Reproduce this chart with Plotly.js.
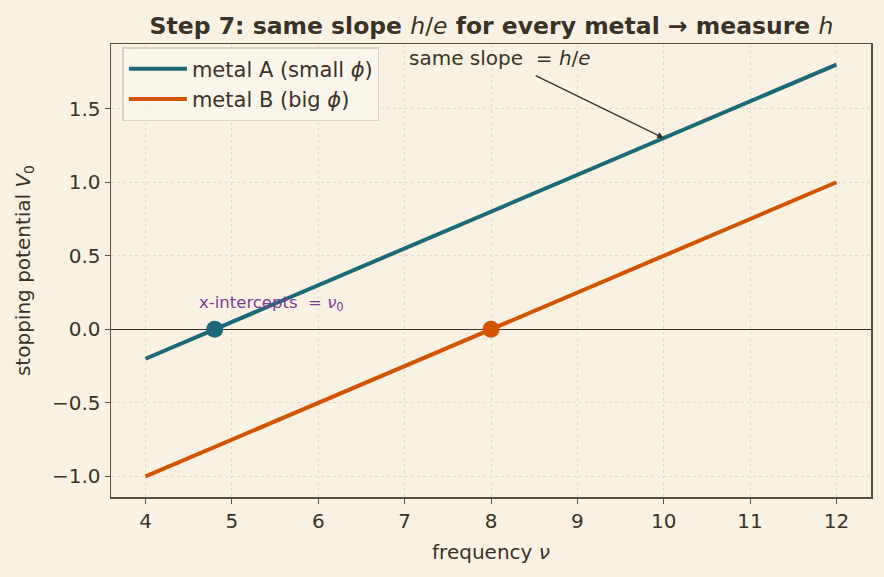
<!DOCTYPE html>
<html>
<head>
<meta charset="utf-8">
<script src="https://cdn.plot.ly/plotly-3.0.1.min.js"></script>
<style>html,body{margin:0;padding:0;background:#f9f2e3;}#chart{width:884px;height:577px;}</style>
</head>
<body>
<div id="chart"></div>
<script>
const frequency = [4, 12];
const metalA = [-0.2, 1.8];
const metalB = [-1.0, 1.0];
const interceptX = [4.8, 8.0];
const interceptY = [0, 0];
const xTicks = [4, 5, 6, 7, 8, 9, 10, 11, 12];
const yTicks = [-1.0, -0.5, 0.0, 0.5, 1.0, 1.5];
const yTickText = ['\u22121.0', '\u22120.5', '0.0', '0.5', '1.0', '1.5'];

const teal = '#1b6878';
const orange = '#d35400';
const ink = '#3a3226';
const font = 'DejaVu Sans, sans-serif';

const traces = [
  {x: frequency, y: metalA, mode: 'lines', name: 'metal A (small <i>\u03d5</i>)', line: {color: teal, width: 4}},
  {x: frequency, y: metalB, mode: 'lines', name: 'metal B (big <i>\u03d5</i>)', line: {color: orange, width: 4}},
  {x: [interceptX[0]], y: [interceptY[0]], mode: 'markers', showlegend: false, marker: {color: teal, size: 17}},
  {x: [interceptX[1]], y: [interceptY[1]], mode: 'markers', showlegend: false, marker: {color: orange, size: 17}}
];

const layout = {
  width: 884, height: 577,
  paper_bgcolor: '#f9f2e3', plot_bgcolor: '#f9f2e3',
  margin: {l: 111, r: 13, t: 44, b: 80},
  font: {family: font, color: ink, size: 20},
  title: {text: '<b>Step 7: same slope </b><i>h</i>/<i>e</i><b> for every metal \u2192 measure </b><i>h</i>', x: 0.556, xanchor: 'center', y: 0.955, yanchor: 'middle', font: {family: font, size: 23.5, color: ink}},
  xaxis: {range: [3.6, 12.4], tickvals: xTicks, ticks: 'outside', ticklen: 5, tickcolor: '#5a4e3c', showline: true, mirror: true, linecolor: '#5a4e3c', linewidth: 1.5, showgrid: true, gridcolor: '#ddd6c6', griddash: 'dot', gridwidth: 0.8, zeroline: false, tickfont: {size: 20, color: ink},
    title: {text: 'frequency <i>\u03bd</i>', font: {size: 20, color: ink}, standoff: 13}},
  yaxis: {range: [-1.14, 1.94], tickvals: yTicks, ticktext: yTickText, ticks: 'outside', ticklen: 5, tickcolor: '#5a4e3c', showline: true, mirror: true, linecolor: '#5a4e3c', linewidth: 1.5, showgrid: true, gridcolor: '#ddd6c6', griddash: 'dot', gridwidth: 0.8, zeroline: true, zerolinecolor: '#3a3226', zerolinewidth: 1.4, tickfont: {size: 20, color: ink},
    title: {text: 'stopping potential <i>V</i><sub>0</sub>', font: {size: 20, color: ink}, standoff: 16}},
  legend: {x: 0.015, y: 0.993, xanchor: 'left', yanchor: 'top', bgcolor: 'rgba(251,246,236,0.92)', bordercolor: '#d8d2c6', borderwidth: 1.5, font: {size: 21, color: ink}, itemwidth: 58},
  annotations: [
    {x: 10, y: 1.3, xref: 'x', yref: 'y', ax: 8.5, ay: 1.73, axref: 'x', ayref: 'y', text: '', showarrow: true, arrowhead: 2, arrowsize: 1, arrowwidth: 1.3, arrowcolor: ink},
    {x: 8.1, y: 1.845, xref: 'x', yref: 'y', text: 'same slope  = <i>h</i>/<i>e</i>', showarrow: false, font: {size: 20, color: ink}},
    {x: 5.46, y: 0.175, xref: 'x', yref: 'y', text: 'x-intercepts  = <i>\u03bd</i><sub>0</sub>', showarrow: false, font: {size: 16.5, color: '#7d3c98'}}
  ]
};

Plotly.newPlot('chart', traces, layout, {displayModeBar: false, staticPlot: true});
</script>
</body>
</html>
